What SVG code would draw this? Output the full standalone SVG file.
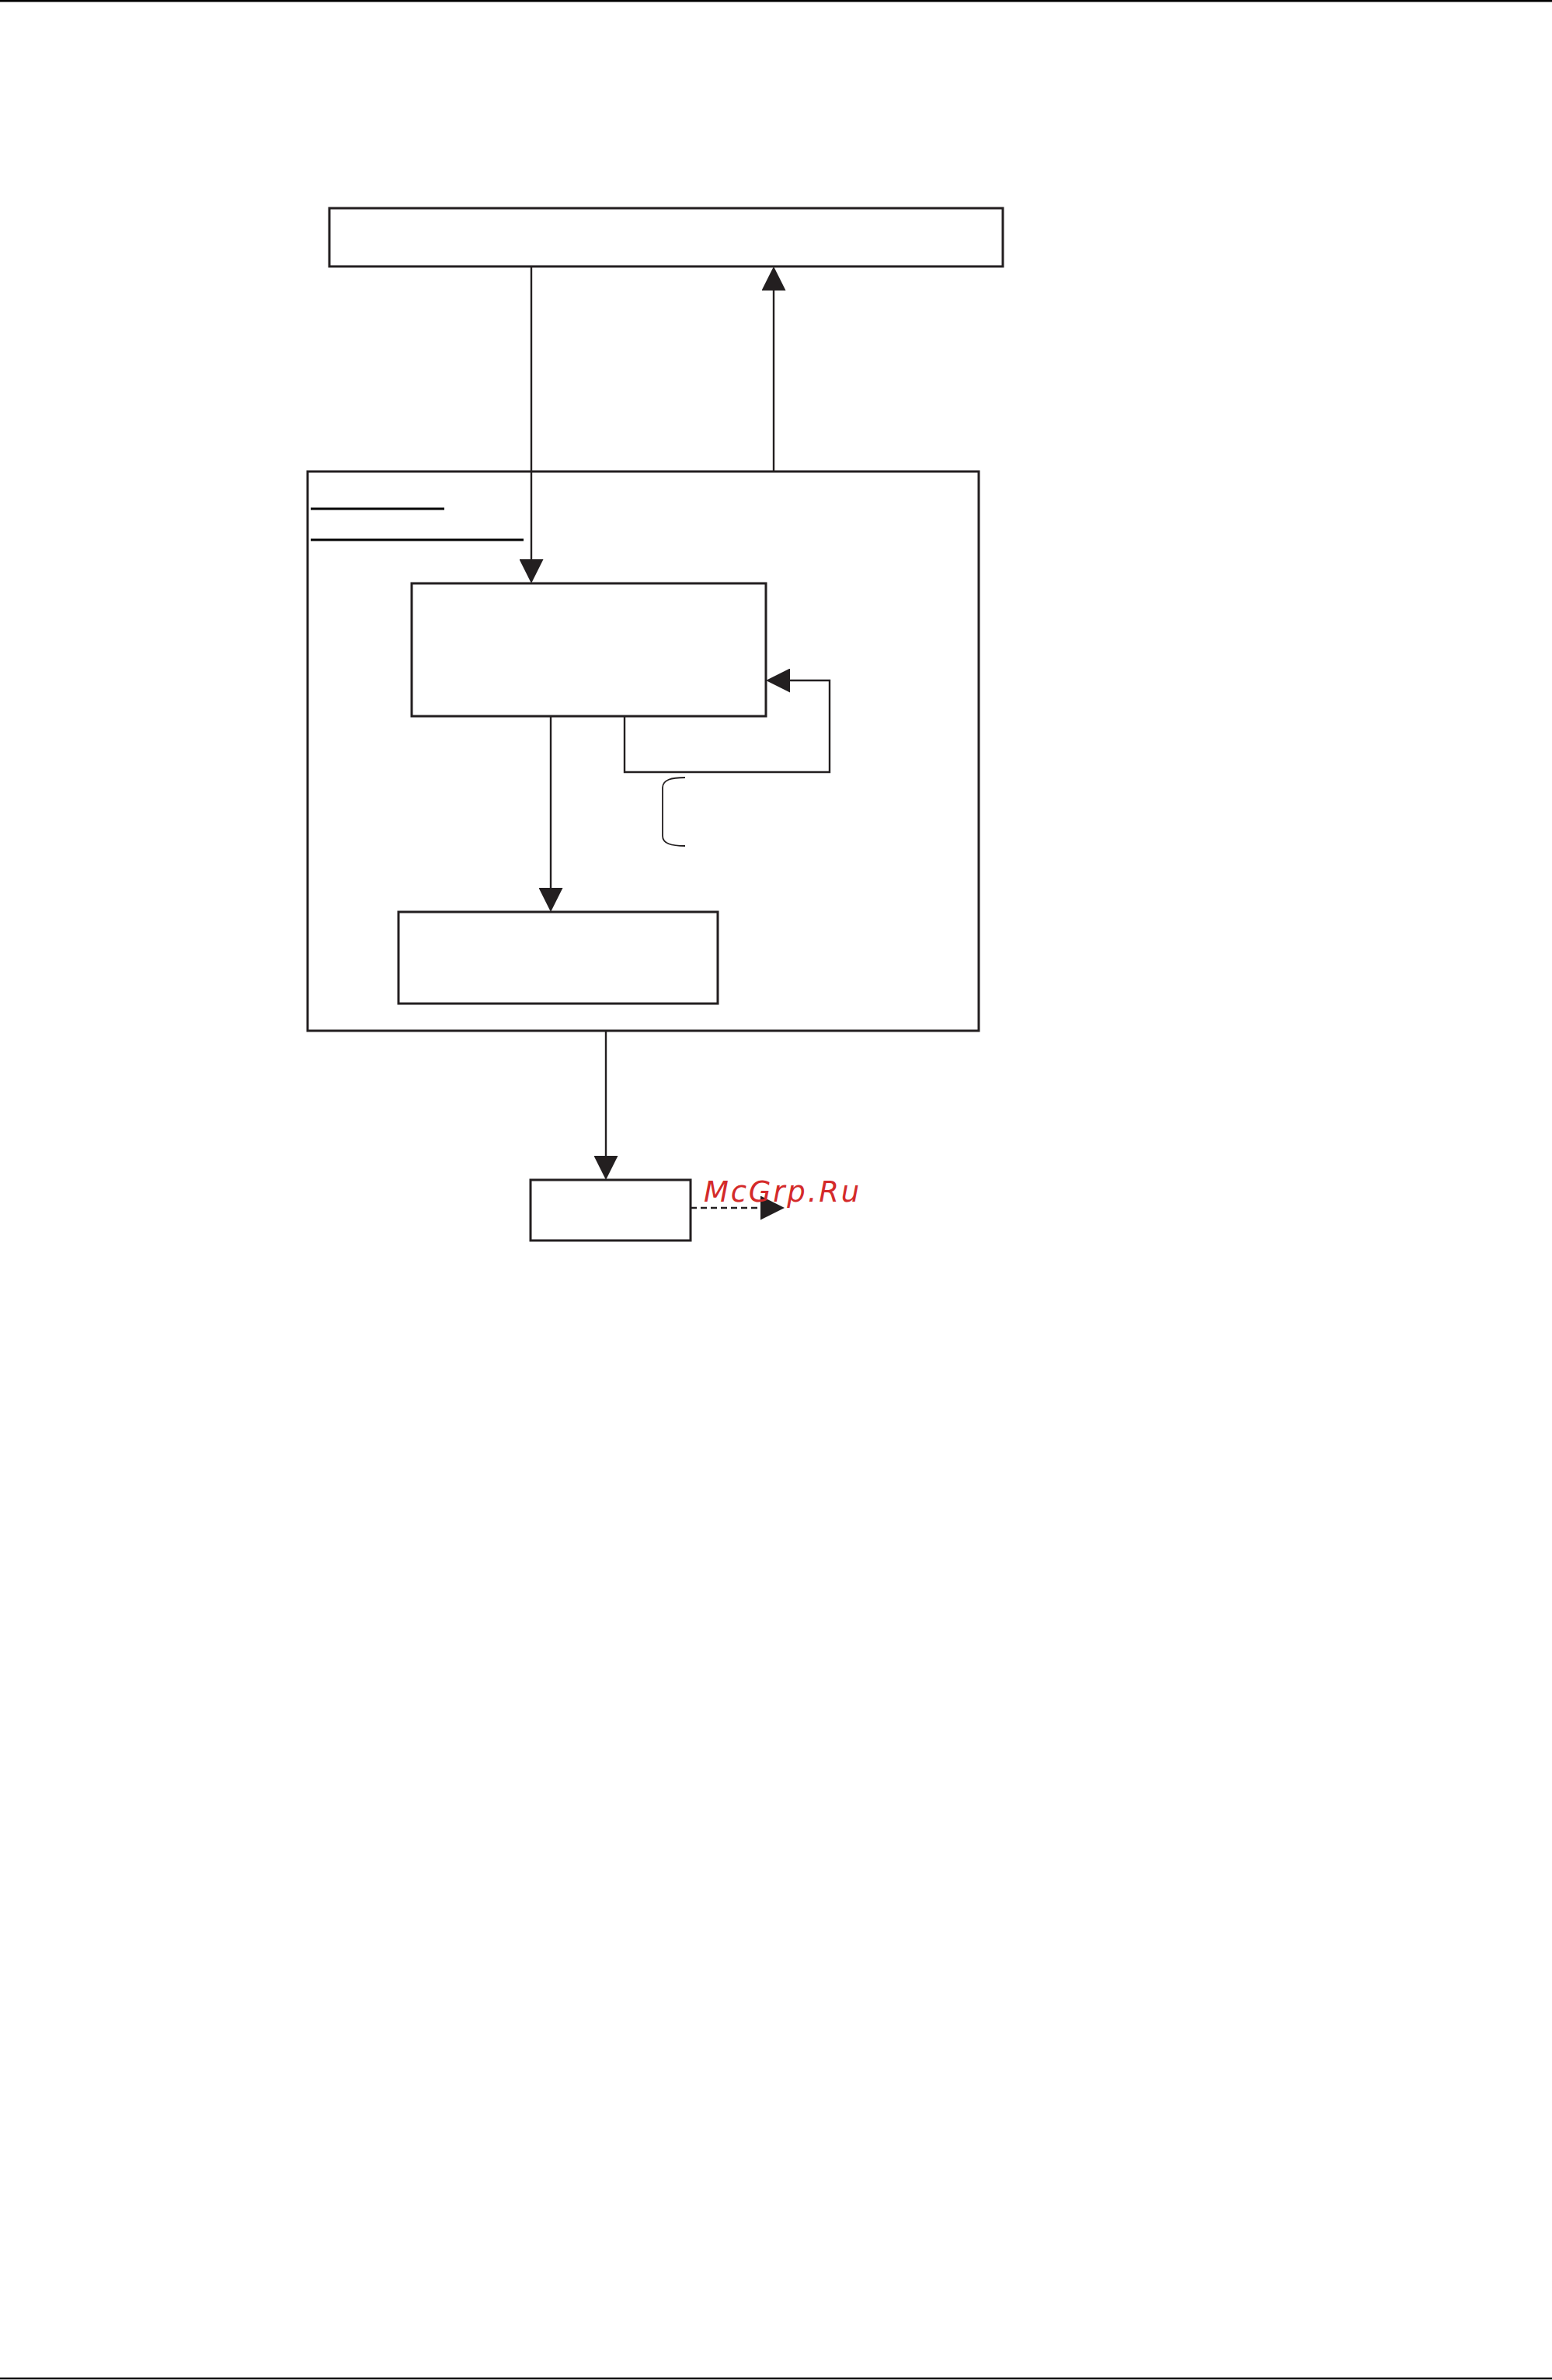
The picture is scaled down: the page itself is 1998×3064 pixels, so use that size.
<svg xmlns="http://www.w3.org/2000/svg" width="1998" height="3064" viewBox="0 0 1998 3064">
<style>
.box{fill:none;stroke:#231f20;stroke-width:3}
.ln{fill:none;stroke:#231f20;stroke-width:2.4}
.ul{stroke:#000;stroke-width:3}
.rule{stroke:#000;stroke-width:2.5}
.brace{fill:none;stroke:#231f20;stroke-width:1.8}
.wm{font-family:"DejaVu Sans",sans-serif;font-style:oblique;font-size:37px;letter-spacing:2.8px;fill:#d42a2a}
</style>
<defs>
<marker id="ah" viewBox="0 0 31 31" refX="0" refY="15.5" markerWidth="31" markerHeight="31" markerUnits="userSpaceOnUse" orient="auto">
<path d="M0,0 L31,15.5 L0,31 z" fill="#231f20"/>
</marker>
</defs>
<rect width="1998" height="3064" fill="#fff"/>
<line class="rule" x1="0" y1="1.2" x2="1998" y2="1.2"/>
<line class="rule" x1="0" y1="3062" x2="1998" y2="3062"/>
<g id="top-box"><rect class="box" x="424" y="268" width="867" height="75"/></g>
<g id="outer-box">
<rect class="box" x="396" y="607" width="864" height="720"/>
<line class="ul" x1="400" y1="655" x2="572" y2="655"/>
<line class="ul" x1="400" y1="695" x2="674" y2="695"/>
</g>
<g id="box2"><rect class="box" x="530" y="751" width="456" height="171"/></g>
<g id="box3"><rect class="box" x="513" y="1174" width="411" height="118"/></g>
<g id="box4"><rect class="box" x="683" y="1519" width="206" height="78"/></g>
<g id="brace"><path class="brace" d="M882,1001 C864,1001 853,1004 853,1014 V1076 C853,1086 864,1089 882,1089"/></g>
<g id="connectors">
<line class="ln" x1="684" y1="343" x2="684" y2="720" marker-end="url(#ah)"/>
<line class="ln" x1="996" y1="607" x2="996" y2="374" marker-end="url(#ah)"/>
<line class="ln" x1="709" y1="922" x2="709" y2="1143" marker-end="url(#ah)"/>
<path class="ln" d="M804,922 V994 H1068 V876 H1017" marker-end="url(#ah)"/>
<line class="ln" x1="780" y1="1327" x2="780" y2="1488" marker-end="url(#ah)"/>
<line class="ln" x1="889" y1="1555" x2="979" y2="1555" stroke-dasharray="8 5" marker-end="url(#ah)"/>
</g>
<text class="wm" x="906" y="1547">McGrp.Ru</text>
</svg>
